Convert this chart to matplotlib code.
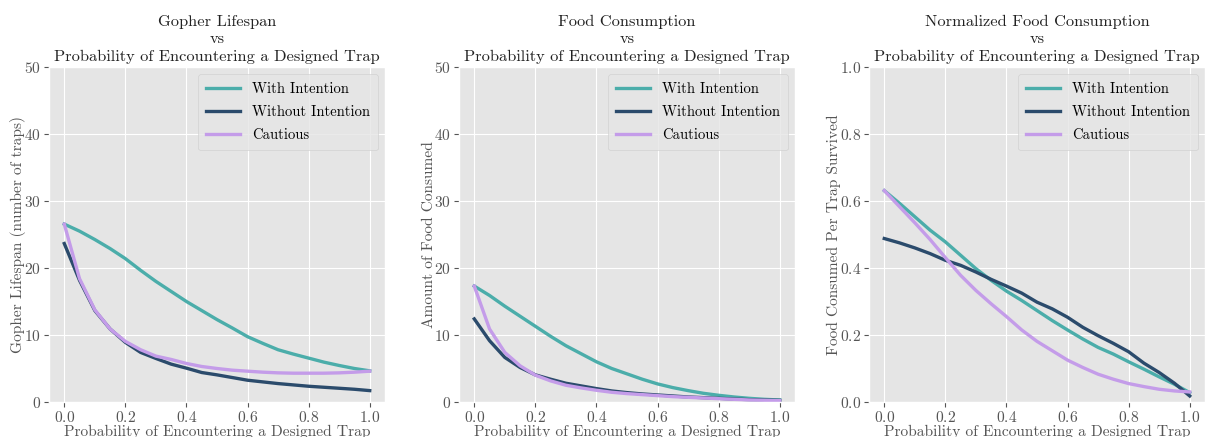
import numpy as np
import matplotlib
matplotlib.use("Agg")
import matplotlib.pyplot as plt

# ── data (step 0.05) ──────────────────────────────────────────────────────
prob = [0.00, 0.05, 0.10, 0.15, 0.20, 0.25, 0.30, 0.35, 0.40, 0.45, 0.50,
        0.55, 0.60, 0.65, 0.70, 0.75, 0.80, 0.85, 0.90, 0.95, 1.00]

life_with = [26.55, 25.5, 24.25, 22.9, 21.4, 19.65, 18.0, 16.5, 15.0, 13.65, 12.3,
             11.05, 9.75, 8.75, 7.8, 7.15, 6.55, 5.95, 5.45, 5.0, 4.65]
life_without = [23.65, 18.15, 13.65, 10.9, 8.9, 7.4, 6.5, 5.65, 5.05, 4.4, 4.05,
                3.65, 3.25, 3.0, 2.75, 2.55, 2.35, 2.2, 2.05, 1.9, 1.7]
life_cautious = [26.55, 18.4, 13.75, 10.9, 9.05, 7.8, 6.85, 6.35, 5.75, 5.3, 5.0,
                 4.75, 4.6, 4.45, 4.35, 4.3, 4.3, 4.3, 4.35, 4.45, 4.6]

food_with = [17.3, 15.9, 14.3, 12.8, 11.3, 9.8, 8.4, 7.2, 6.0, 5.0, 4.2,
             3.4, 2.7, 2.15, 1.7, 1.3, 1.0, 0.75, 0.55, 0.4, 0.3]
food_without = [12.4, 9.15, 6.65, 5.15, 4.05, 3.4, 2.8, 2.4, 2.0, 1.65, 1.4,
                1.2, 1.05, 0.9, 0.75, 0.65, 0.55, 0.45, 0.35, 0.3, 0.25]
food_cautious = [17.3, 10.9, 7.4, 5.4, 4.0, 3.15, 2.5, 2.1, 1.75, 1.45, 1.25,
                 1.1, 0.95, 0.8, 0.7, 0.6, 0.5, 0.4, 0.3, 0.25, 0.2]

norm_with = [0.631, 0.593, 0.553, 0.513, 0.478, 0.438, 0.398, 0.363, 0.331, 0.303, 0.273,
             0.243, 0.215, 0.188, 0.163, 0.143, 0.120, 0.098, 0.075, 0.053, 0.028]
norm_without = [0.488, 0.475, 0.460, 0.443, 0.423, 0.408, 0.388, 0.366, 0.346, 0.325, 0.298,
                0.278, 0.253, 0.223, 0.198, 0.175, 0.150, 0.116, 0.088, 0.056, 0.018]
norm_cautious = [0.631, 0.583, 0.535, 0.485, 0.431, 0.378, 0.333, 0.293, 0.255, 0.215, 0.181,
                 0.153, 0.125, 0.103, 0.083, 0.068, 0.055, 0.046, 0.038, 0.033, 0.030]

series_labels = ["With Intention", "Without Intention", "Cautious"]
series_colors = ["#4badaa", "#2b4b6c", "#c49ce9"]

x_label = "Probability of Encountering a Designed Trap"
titles = ["Gopher Lifespan", "Food Consumption", "Normalized Food Consumption"]
y_labels = ["Gopher Lifespan (number of traps)", "Amount of Food Consumed",
            "Food Consumed Per Trap Survived"]
y_limits = [(0, 50), (0, 50), (0, 1.0)]
panels = [
    (life_with, life_without, life_cautious),
    (food_with, food_without, food_cautious),
    (norm_with, norm_without, norm_cautious),
]

# ── style ─────────────────────────────────────────────────────────────────
plt.style.use("ggplot")
plt.rcParams["font.family"] = ["cmr10", "DejaVu Serif"]
plt.rcParams["mathtext.fontset"] = "cm"
plt.rcParams["axes.formatter.use_mathtext"] = True
plt.rcParams["axes.unicode_minus"] = False

fig = plt.figure(figsize=(12.07, 4.37), dpi=100)
lefts = [49 / 1207, 459 / 1207, 869 / 1207]
w, b, h = 336 / 1207, 35 / 437, 335 / 437

for i, (left, data) in enumerate(zip(lefts, panels)):
    ax = fig.add_axes([left, b, w, h])
    for vals, lab, col in zip(data, series_labels, series_colors):
        ax.plot(prob, vals, color=col, lw=2.4, label=lab)
    ax.set_ylim(*y_limits[i])
    ax.set_xlim(-0.05, 1.05)
    ax.set_xticks(np.arange(0, 1.01, 0.2))
    if i < 2:
        ax.set_yticks(range(0, 51, 10))
    else:
        ax.set_yticks(np.arange(0, 1.01, 0.2))
    ax.tick_params(labelsize=11.2, colors="#555555", pad=2)
    ax.set_title(f"{titles[i]}\nvs\n{x_label}", fontsize=11.8, color="#222222",
                 linespacing=1.35, pad=4)
    ax.set_xlabel(x_label, fontsize=11.1, color="#555555", labelpad=0)
    ax.set_ylabel(y_labels[i], fontsize=11.1, color="#555555", labelpad=-1)
    ax.legend(loc="upper right", fontsize=10.5, handlelength=2.3,
              borderpad=0.55, labelspacing=0.65)

fig.savefig("out.png", dpi=100)
